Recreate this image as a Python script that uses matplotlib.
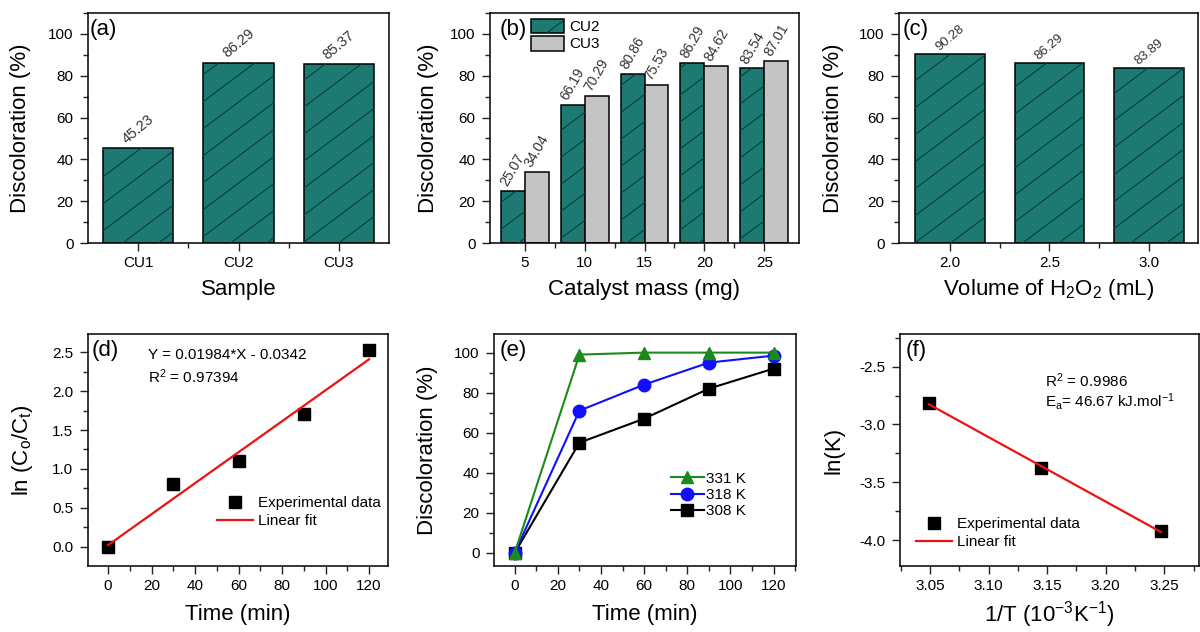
import numpy as np
import matplotlib
matplotlib.use('Agg')
import matplotlib.pyplot as plt
from matplotlib.collections import LineCollection
from matplotlib.transforms import IdentityTransform
from matplotlib.ticker import MultipleLocator, FixedLocator, FormatStrFormatter

plt.rcParams['font.family'] = ['Liberation Sans', 'DejaVu Sans']
plt.rcParams['mathtext.fontset'] = 'custom'
plt.rcParams['mathtext.rm'] = 'Liberation Sans'
plt.rcParams['mathtext.it'] = 'Liberation Sans:italic'
plt.rcParams['mathtext.default'] = 'regular'

# ---------------- data ----------------
samples = ['CU1', 'CU2', 'CU3']
sample_disc = [45.23, 86.29, 85.37]

mass_mg = [5, 10, 15, 20, 25]
mass_cu2 = [25.07, 66.19, 80.86, 86.29, 83.54]
mass_cu3 = [34.04, 70.29, 75.53, 84.62, 87.01]

h2o2_ml = [2.0, 2.5, 3.0]
h2o2_disc = [90.28, 86.29, 83.89]

kin_time = [0, 30, 60, 90, 120]
kin_lnc = [0.0, 0.80, 1.10, 1.70, 2.53]
kin_fit_time = [0, 120]
kin_fit_lnc = [0.02, 2.41]

temp_time = [0, 30, 60, 90, 120]
disc_331 = [0, 99, 100, 100, 100]
disc_318 = [0, 71, 84, 95, 98.5]
disc_308 = [0, 55, 67, 82, 92]

inv_T = [3.049, 3.145, 3.247]
ln_k = [-2.81, -3.38, -3.92]
arr_fit_x = [3.049, 3.247]
arr_fit_y = [-2.825, -3.93]

TEAL = '#1c7a72'
GRAY = '#c4c4c4'
HATCH = '#0b3e3a'
LBL = '#333333'

W, H = 1200, 632
fig = plt.figure(figsize=(W / 100, H / 100), dpi=100)


def axes_px(x0, x1, y0, y1):
    return fig.add_axes([x0 / W, (H - y1) / H, (x1 - x0) / W, (y1 - y0) / H])


def style(ax):
    for s in ax.spines.values():
        s.set_linewidth(1.1)
    ax.tick_params(which='both', direction='out', top=False, right=False,
                   labelsize=11, width=1.0, color='#222222')
    ax.tick_params(which='major', length=6)
    ax.tick_params(which='minor', length=3.5)
    ax.tick_params(axis='x', pad=3)
    ax.tick_params(axis='y', pad=4.5)


def labels(ax, xl, yl, xly, ylx):
    ax.set_xlabel(xl, fontsize=16, va='center')
    ax.set_ylabel(yl, fontsize=16, va='center')
    ax.xaxis.set_label_coords(0.5, xly)
    ax.yaxis.set_label_coords(ylx, 0.5)


def panel(ax, s, x, y=0.972):
    ax.text(x, y, s, transform=ax.transAxes, fontsize=16, ha='left', va='top')


hatched = []

# ---------------- (a) ----------------
axa = axes_px(88, 389, 13, 243)
pos_a = np.arange(1, len(samples) + 1)
ba = axa.bar(pos_a, sample_disc, width=0.7, color=TEAL, edgecolor='black', linewidth=1.1)
hatched += list(ba)
for x, v in zip(pos_a, sample_disc):
    axa.annotate(f'{v:.2f}', (x, v), xytext=(0, 1.5), textcoords='offset points',
                 ha='center', va='bottom', rotation=40, fontsize=10.5, color=LBL)
axa.set_xlim(0.5, 3.5)
axa.set_ylim(0, 110)
axa.set_xticks(pos_a)
axa.set_xticklabels(samples)
axa.xaxis.set_minor_locator(FixedLocator([1.5, 2.5]))
axa.yaxis.set_major_locator(MultipleLocator(20))
axa.yaxis.set_minor_locator(MultipleLocator(10))
style(axa)
labels(axa, 'Sample', 'Discoloration (%)', -0.204, -0.223)
panel(axa, '(a)', 0.007)

# ---------------- (b) ----------------
axb = axes_px(490, 799, 13, 243)
mm = np.array(mass_mg, dtype=float)
bb2 = axb.bar(mm - 1, mass_cu2, width=2, color=TEAL, edgecolor='black', linewidth=1.1, label='CU2')
bb3 = axb.bar(mm + 1, mass_cu3, width=2, color=GRAY, edgecolor='black', linewidth=1.1, label='CU3')
hatched += list(bb2)
for x, v in zip(mm - 1, mass_cu2):
    axb.annotate(f'{v:.2f}', (x, v), xytext=(0, 1.5), textcoords='offset points',
                 ha='center', va='bottom', rotation=60, fontsize=10, color=LBL)
for x, v in zip(mm + 1, mass_cu3):
    axb.annotate(f'{v:.2f}', (x, v), xytext=(0, 1.5), textcoords='offset points',
                 ha='center', va='bottom', rotation=60, fontsize=10, color=LBL)
axb.set_xlim(2.1, 27.9)
axb.set_ylim(0, 110)
axb.set_xticks(mass_mg)
axb.xaxis.set_minor_locator(FixedLocator([7.5, 12.5, 17.5, 22.5]))
axb.yaxis.set_major_locator(MultipleLocator(20))
axb.yaxis.set_minor_locator(MultipleLocator(10))
style(axb)
labels(axb, 'Catalyst mass (mg)', 'Discoloration (%)', -0.204, -0.2)
panel(axb, '(b)', 0.032)
legb = axb.legend(loc='center', bbox_to_anchor=(0.243, 0.904), frameon=False, fontsize=11,
                  handlelength=2.2, handleheight=1.1, handletextpad=0.3, labelspacing=0.1,
                  borderpad=0.2)

# ---------------- (c) ----------------
axc = axes_px(899, 1198, 13, 243)
bc = axc.bar(h2o2_ml, h2o2_disc, width=0.35, color=TEAL, edgecolor='black', linewidth=1.1)
hatched += list(bc)
for x, v in zip(h2o2_ml, h2o2_disc):
    axc.annotate(f'{v:.2f}', (x, v), xytext=(0, 0.5), textcoords='offset points',
                 ha='center', va='bottom', rotation=40, fontsize=9.5, color=LBL)
axc.set_xlim(1.745, 3.245)
axc.set_ylim(0, 110)
axc.set_xticks(h2o2_ml)
axc.xaxis.set_major_formatter(FormatStrFormatter('%.1f'))
axc.xaxis.set_minor_locator(FixedLocator([2.25, 2.75]))
axc.yaxis.set_major_locator(MultipleLocator(20))
axc.yaxis.set_minor_locator(MultipleLocator(10))
style(axc)
labels(axc, 'Volume of H$_2$O$_2$ (mL)', 'Discoloration (%)', -0.204, -0.22)
panel(axc, '(c)', 0.013)

# ---------------- (d) ----------------
axd = axes_px(88, 388, 334, 566)
axd.plot(kin_time, kin_lnc, 's', color='black', markersize=9, label='Experimental data', zorder=3)
axd.plot(kin_fit_time, kin_fit_lnc, '-', color='#ee1111', linewidth=1.6, label='Linear fit', zorder=4)
axd.set_xlim(-9.2, 128.7)
axd.set_ylim(-0.248, 2.735)
axd.xaxis.set_major_locator(MultipleLocator(20))
axd.xaxis.set_minor_locator(MultipleLocator(10))
axd.yaxis.set_major_locator(MultipleLocator(0.5))
axd.yaxis.set_minor_locator(MultipleLocator(0.25))
axd.yaxis.set_major_formatter(FormatStrFormatter('%.1f'))
style(axd)
labels(axd, 'Time (min)', 'ln (C$_o$/C$_t$)', -0.211, -0.217)
panel(axd, '(d)', 0.013, 0.975)
axd.text(0.2, 0.909, 'Y = 0.01984*X - 0.0342', transform=axd.transAxes, fontsize=11, va='center')
axd.text(0.2, 0.815, 'R$^2$ = 0.97394', transform=axd.transAxes, fontsize=11, va='center')
axd.legend(loc='center', bbox_to_anchor=(0.703, 0.233), frameon=False, fontsize=11,
           handlelength=2.35, handletextpad=0.3, labelspacing=0.25, numpoints=1, borderpad=0.2)

# ---------------- (e) ----------------
axe = axes_px(494, 796, 334, 566)
axe.plot(temp_time, disc_308, '-s', color='black', markersize=8, linewidth=1.5, label='308 K', zorder=3)
axe.plot(temp_time, disc_318, '-o', color='#1010ff', markersize=9, linewidth=1.5, label='318 K', zorder=4)
axe.plot(temp_time, disc_331, '-^', color='#1a8a1a', markersize=9, linewidth=1.5, label='331 K', zorder=5)
axe.set_xlim(-9.6, 130.4)
axe.set_ylim(-6.6, 109.3)
axe.xaxis.set_major_locator(MultipleLocator(20))
axe.xaxis.set_minor_locator(MultipleLocator(10))
axe.yaxis.set_major_locator(MultipleLocator(20))
axe.yaxis.set_minor_locator(MultipleLocator(10))
style(axe)
labels(axe, 'Time (min)', 'Discoloration (%)', -0.211, -0.219)
panel(axe, '(e)', 0.02, 0.975)
h, l = axe.get_legend_handles_labels()
axe.legend(h[::-1], l[::-1], loc='center', bbox_to_anchor=(0.709, 0.306), frameon=False,
           fontsize=11, handlelength=2.2, handletextpad=0.1, labelspacing=0.15, borderpad=0.2)

# ---------------- (f) ----------------
axf = axes_px(900, 1199, 334, 566)
axf.plot(inv_T, ln_k, 's', color='black', markersize=9, label='Experimental data', zorder=3)
axf.plot(arr_fit_x, arr_fit_y, '-', color='#ee1111', linewidth=1.6, label='Linear fit', zorder=4)
axf.set_xlim(3.0244, 3.2796)
axf.set_ylim(-4.225, -2.217)
axf.xaxis.set_major_locator(MultipleLocator(0.05))
axf.xaxis.set_minor_locator(MultipleLocator(0.025))
axf.xaxis.set_major_formatter(FormatStrFormatter('%.2f'))
axf.yaxis.set_major_locator(MultipleLocator(0.5))
axf.yaxis.set_minor_locator(MultipleLocator(0.25))
axf.yaxis.set_major_formatter(FormatStrFormatter('%.1f'))
style(axf)
labels(axf, '1/T (10$^{-3}$K$^{-1}$)', 'ln(K)', -0.211, -0.221)
panel(axf, '(f)', 0.02, 0.975)
axf.text(0.485, 0.797, 'R$^2$ = 0.9986', transform=axf.transAxes, fontsize=11, va='center')
axf.text(0.485, 0.707, 'E$_a$= 46.67 kJ.mol$^{-1}$', transform=axf.transAxes, fontsize=11, va='center')
axf.legend(loc='center', bbox_to_anchor=(0.328, 0.142), frameon=False, fontsize=11,
           handlelength=2.35, handletextpad=0.3, labelspacing=0.25, numpoints=1, borderpad=0.2)

# ---------------- hatch lines (styling of the teal bars) ----------------
fig.canvas.draw()
hatched.append(legb.legend_handles[0])


def add_hatch(patch, spacing=27.0, slope=0.75):
    bb = patch.get_window_extent()
    x0, x1, y0, y1 = bb.x0, bb.x1, bb.y0, bb.y1
    cmin = y0 - slope * x1
    cmax = y1 - slope * x0
    cs = np.arange(np.floor(cmin / spacing) * spacing, cmax + spacing, spacing)
    segs = [[(x0 - 2, slope * (x0 - 2) + c), (x1 + 2, slope * (x1 + 2) + c)] for c in cs]
    lc = LineCollection(segs, colors=HATCH, linewidths=0.8, transform=IdentityTransform())
    lc.set_clip_path(patch)
    fig.add_artist(lc)


for p in hatched:
    add_hatch(p)

fig.savefig('out.png', dpi=100)
